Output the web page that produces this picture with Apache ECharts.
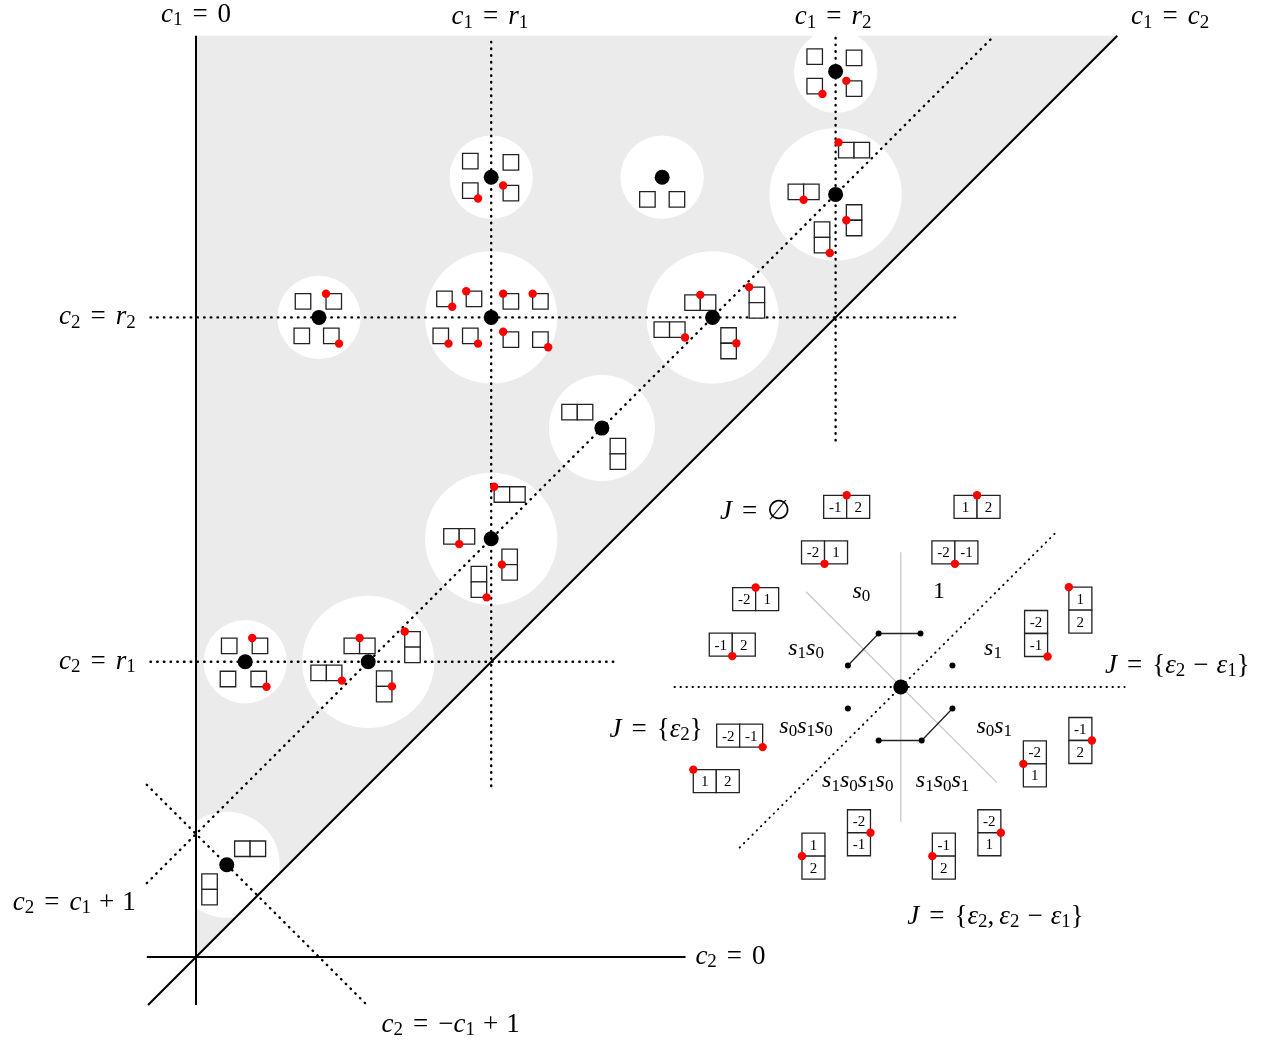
<!DOCTYPE html>
<html>
<head>
<meta charset="utf-8">
<script src="https://cdn.jsdelivr.net/npm/echarts/dist/echarts.min.js"></script>
<style>
html, body { margin: 0; padding: 0; background: #fff; }
#chart-container { width: 1276px; height: 1045px; }
</style>
</head>
<body>
<div id="chart-container"></div>
<script>
var dom = document.getElementById('chart-container');
var myChart = echarts.init(dom, null, { renderer: 'canvas' });

// pixels per unit, and where c1 = c2 = 0 sits on the page
const U = 123;
const ORIGIN = [196, 957];
const SERIF = '"Liberation Serif", "DejaVu Serif", serif';

const R1 = 2.4;
const R2 = 5.2;

// shaded chamber c2 >= c1 >= 0
const chamber = [[0, 0], [0, 7.49], [7.49, 7.49]];

// white discs: c1, c2, radius
const discs = [
    [0.25, 0.75, 0.431], [0.4, R1, 0.339], [1.4, R1, 0.538],
    [1.0, R2, 0.339], [R1, R2, 0.538], [R1, 3.4, 0.538],
    [3.3, 4.3, 0.431], [4.2, R2, 0.538], [R2, 6.2, 0.538],
    [R2, 7.2, 0.339], [R1, 6.34, 0.339], [3.79, 6.34, 0.339]
];

const walls = [
    [[0, -0.39], [0, 7.49]],
    [[-0.4, 0], [3.98, 0]],
    [[-0.39, -0.39], [7.49, 7.49]]
];

const walls_dotted = [
    [[R1, 1.39], [R1, 7.49]],
    [[R2, 4.2], [R2, 7.49]],
    [[-0.37, R2], [6.2, R2]],
    [[-0.37, R1], [3.4, R1]],
    [[-0.4, 0.6], [6.49, 7.49]],
    [[-0.4, 1.4], [1.39, -0.39]]
];

// tableaux next to the points: centre c1, c2, shape (s / h / v), red corner
const boxes = [
    [0.44, 0.88, 'h', ''], [0.11, 0.55, 'v', ''],
    [0.27, 2.53, 's', ''], [0.52, 2.53, 's', 'tl'], [0.26, 2.26, 's', ''], [0.51, 2.26, 's', 'br'],
    [1.33, 2.53, 'h', 't'], [1.06, 2.31, 'h', 'br'], [1.76, 2.52, 'v', 'tl'], [1.53, 2.2, 'v', 'r'],
    [0.87, 5.33, 's', ''], [1.12, 5.33, 's', 'tl'], [0.86, 5.05, 's', ''], [1.1, 5.05, 's', 'br'],
    [2.02, 5.35, 's', 'br'], [2.26, 5.35, 's', 'tl'], [2.56, 5.33, 's', 'tl'], [2.8, 5.33, 's', 'tl'],
    [1.99, 5.05, 's', 'br'], [2.23, 5.05, 's', 'br'], [2.56, 5.02, 's', 'tl'], [2.8, 5.02, 's', 'br'],
    [2.55, 3.76, 'h', 'tl'], [2.14, 3.42, 'h', 'b'], [2.55, 3.19, 'v', 'l'], [2.3, 3.05, 'v', 'br'],
    [3.1, 4.43, 'h', ''], [3.43, 4.09, 'v', ''],
    [4.1, 5.32, 'h', 't'], [3.85, 5.1, 'h', 'br'], [4.56, 5.32, 'v', 'tl'], [4.33, 4.99, 'v', 'r'],
    [5.35, 6.56, 'h', 'tl'], [4.94, 6.22, 'h', 'b'], [5.35, 5.99, 'v', 'l'], [5.09, 5.85, 'v', 'br'],
    [5.03, 7.32, 's', ''], [5.35, 7.31, 's', ''], [5.03, 7.08, 's', 'br'], [5.35, 7.06, 's', 'tl'],
    [2.23, 6.47, 's', ''], [2.56, 6.46, 's', ''], [2.23, 6.23, 's', 'br'], [2.56, 6.21, 's', 'tl'],
    [3.67, 6.16, 's', ''], [3.91, 6.16, 's', '']
];

// filled tableaux of the small picture
const fillings = [
    [5.29, 3.66, 'h', 't', ['-1', '2']],
    [6.35, 3.66, 'h', 't', ['1', '2']],
    [5.11, 3.29, 'h', 'b', ['-2', '1']],
    [6.17, 3.29, 'h', 'b', ['-2', '-1']],
    [4.55, 2.91, 'h', 't', ['-2', '1']],
    [4.36, 2.54, 'h', 'b', ['-1', '2']],
    [4.42, 1.8, 'h', 'br', ['-2', '-1']],
    [4.23, 1.43, 'h', 'tl', ['1', '2']],
    [7.19, 2.82, 'v', 'tl', ['1', '2']],
    [6.83, 2.63, 'v', 'br', ['-2', '-1']],
    [7.19, 1.76, 'v', 'r', ['-1', '2']],
    [6.82, 1.57, 'v', 'l', ['-2', '1']],
    [5.39, 1.01, 'v', 'r', ['-2', '-1']],
    [5.02, 0.82, 'v', 'l', ['1', '2']],
    [6.08, 0.82, 'v', 'l', ['-1', '2']],
    [6.45, 1.01, 'v', 'r', ['-2', '1']]
];

const points = [
    [0.25, 0.75], [0.4, R1], [1.4, R1], [1.0, R2], [R1, R2], [R1, 3.4],
    [3.3, 4.3], [4.2, R2], [R2, 6.2], [R2, 7.2], [R1, 6.34], [3.79, 6.34],
    [5.73, 2.195]
];

const mirrors = [
    [[5.73, 3.29], [5.73, 1.1]],
    [[4.96, 2.97], [6.51, 1.42]]
];
const mirrors_dotted = [
    [[3.89, 2.195], [7.55, 2.195]],
    [[4.42, 0.89], [7.01, 3.47]]
];
const chains = [
    [[5.3, 2.37], [5.55, 2.63], [5.89, 2.63]],
    [[5.55, 1.76], [5.9, 1.76], [6.15, 2.02]]
];
const chainDots = [
    [5.3, 2.37], [5.55, 2.63], [5.89, 2.63], [6.15, 2.37],
    [5.3, 2.02], [5.55, 1.76], [5.9, 1.76], [6.15, 2.02]
];

// big labels: c1, c2, anchor, text
const bigLabels = [
    [0, 7.66, 'center', '{i|c}{s|1}{e|=}{n|0}'],
    [2.39, 7.64, 'center', '{i|c}{s|1}{e|=}{i|r}{s|1}'],
    [5.18, 7.64, 'center', '{i|c}{s|1}{e|=}{i|r}{s|2}'],
    [7.92, 7.64, 'center', '{i|c}{s|1}{e|=}{i|c}{s|2}'],
    [-0.49, 5.2, 'right', '{i|c}{s|2}{e|=}{i|r}{s|2}'],
    [-0.49, 2.4, 'right', '{i|c}{s|2}{e|=}{i|r}{s|1}'],
    [-0.49, 0.44, 'right', '{i|c}{s|2}{e|=}{i|c}{s|1}{o|+}{n|1}'],
    [4.06, 0, 'left', '{i|c}{s|2}{e|=}{n|0}'],
    [2.07, -0.55, 'center', '{i|c}{s|2}{e|=}{n|\u2212}{i|c}{s|1}{o|+}{n|1}'],
    [4.55, 3.62, 'center', '{i|J}{e|=}{n|\u2205}'],
    [7.39, 2.37, 'left', '{i|J}{e|=}{n|{}{i|\u03b5}{s|2}{o|\u2212}{i|\u03b5}{s|1}}'],
    [4.12, 1.85, 'right', '{i|J}{e|=}{n|{}{i|\u03b5}{s|2}}'],
    [6.5, 0.33, 'center', '{i|J}{e|=}{n|{}{i|\u03b5}{s|2}{c|,}{i|\u03b5}{s|2}{o|\u2212}{i|\u03b5}{s|1}}']
];

// chamber names in the small picture
const words = [
    [5.41, 2.97, '{i|s}{s|0}'],
    [6.04, 2.97, '{n|1}'],
    [4.96, 2.51, '{i|s}{s|1}{i|s}{s|0}'],
    [6.48, 2.51, '{i|s}{s|1}'],
    [4.96, 1.87, '{i|s}{s|0}{i|s}{s|1}{i|s}{s|0}'],
    [6.49, 1.87, '{i|s}{s|0}{i|s}{s|1}'],
    [5.38, 1.43, '{i|s}{s|1}{i|s}{s|0}{i|s}{s|1}{i|s}{s|0}'],
    [6.07, 1.43, '{i|s}{s|1}{i|s}{s|0}{i|s}{s|1}']
];

const ANCHORS = {
    tl: [-1, -1], tr: [1, -1], bl: [-1, 1], br: [1, 1],
    t: [0, -1], b: [0, 1], l: [-1, 0], r: [1, 0]
};

function makeRich(big, sub) {
    return {
        i: { fontFamily: SERIF, fontStyle: 'italic', fontSize: big, lineHeight: big + 3 },
        n: { fontFamily: SERIF, fontSize: big, lineHeight: big + 3 },
        s: { fontFamily: SERIF, fontSize: sub, lineHeight: sub, verticalAlign: 'bottom' },
        e: { fontFamily: SERIF, fontSize: big, lineHeight: big + 3, padding: [0, 10, 0, 10] },
        o: { fontFamily: SERIF, fontSize: big, lineHeight: big + 3, padding: [0, 8, 0, 8] },
        c: { fontFamily: SERIF, fontSize: big, lineHeight: big + 3, padding: [0, 5, 0, 0] }
    };
}

function tableauRender(list, cell, fontSize) {
    return function (params, api) {
        const t = list[params.dataIndex];
        const c = api.coord([t[0], t[1]]);
        const s = api.size([cell, cell])[0];
        const cols = t[2] === 'h' ? 2 : 1;
        const rows = t[2] === 'v' ? 2 : 1;
        const x0 = c[0] - cols * s / 2;
        const y0 = c[1] - rows * s / 2;
        const children = [];
        for (let k = 0; k < cols * rows; k++) {
            const i = t[2] === 'h' ? k : 0;
            const j = t[2] === 'v' ? k : 0;
            children.push({
                type: 'rect',
                shape: { x: x0 + i * s, y: y0 + j * s, width: s, height: s },
                style: { fill: '#fff', stroke: '#222', lineWidth: 1.3 }
            });
            if (t[4]) {
                children.push({
                    type: 'text',
                    style: {
                        text: t[4][k], x: x0 + (i + 0.5) * s, y: y0 + (j + 0.5) * s + 1,
                        align: 'center', verticalAlign: 'middle',
                        fontFamily: SERIF, fontSize: fontSize, fill: '#000'
                    }
                });
            }
        }
        const a = ANCHORS[t[3]];
        if (a) {
            children.push({
                type: 'circle',
                shape: { cx: c[0] + a[0] * cols * s / 2, cy: c[1] + a[1] * rows * s / 2, r: 4.2 },
                style: { fill: '#ff0000' }
            });
        }
        return { type: 'group', children: children };
    };
}

function labelRender(list, rich, big) {
    return function (params, api) {
        const t = list[params.dataIndex];
        const c = api.coord([t[0], t[1]]);
        return {
            type: 'text', x: c[0], y: c[1],
            style: {
                text: t[t.length - 1], rich: rich,
                align: t.length > 3 ? t[2] : 'center', verticalAlign: 'middle',
                fontFamily: SERIF, fontSize: big, fill: '#000'
            }
        };
    };
}

function lineSeries(seg, style, z) {
    return {
        type: 'line', data: seg, symbol: 'none', silent: true, z: z,
        lineStyle: style
    };
}

const solid = { color: '#000', width: 2 };
const dotted = { color: '#000', width: 2.4, type: [0.5, 6.2], cap: 'round' };
const dottedSmall = { color: '#000', width: 1.9, type: [0.5, 5.5], cap: 'round' };
const grayLine = { color: '#c8c8c8', width: 1.3 };
const chainLine = { color: '#222', width: 1.3 };

var series = [
    {
        type: 'custom', z: 1, silent: true, data: [[0, 0]],
        renderItem: function (params, api) {
            return {
                type: 'polygon',
                shape: { points: chamber.map(function (p) { return api.coord(p); }) },
                style: { fill: '#ebebeb' }
            };
        }
    },
    {
        type: 'custom', z: 2, silent: true,
        data: discs,
        renderItem: function (params, api) {
            const c = api.coord([api.value(0), api.value(1)]);
            const r = api.size([api.value(2), 0])[0];
            return { type: 'circle', shape: { cx: c[0], cy: c[1], r: r }, style: { fill: '#fff' } };
        }
    }
];

walls.forEach(function (seg) { series.push(lineSeries(seg, solid, 3)); });
walls_dotted.forEach(function (seg) { series.push(lineSeries(seg, dotted, 3)); });
mirrors.forEach(function (seg) { series.push(lineSeries(seg, grayLine, 3)); });
mirrors_dotted.forEach(function (seg) { series.push(lineSeries(seg, dottedSmall, 3)); });
chains.forEach(function (seg) { series.push(lineSeries(seg, chainLine, 3)); });

series.push(
    {
        type: 'custom', z: 4, silent: true,
        data: boxes.map(function (t) { return [t[0], t[1]]; }),
        renderItem: tableauRender(boxes, 0.126, 15)
    },
    {
        type: 'custom', z: 4, silent: true,
        data: fillings.map(function (t) { return [t[0], t[1]]; }),
        renderItem: tableauRender(fillings, 0.187, 15)
    },
    {
        type: 'scatter', z: 5, silent: true, symbolSize: 15,
        itemStyle: { color: '#000', opacity: 1 }, data: points
    },
    {
        type: 'scatter', z: 5, silent: true, symbolSize: 6,
        itemStyle: { color: '#000', opacity: 1 }, data: chainDots
    },
    {
        type: 'custom', z: 6, silent: true,
        data: bigLabels.map(function (t) { return [t[0], t[1]]; }),
        renderItem: labelRender(bigLabels, makeRich(27, 19), 27)
    },
    {
        type: 'custom', z: 6, silent: true,
        data: words.map(function (t) { return [t[0], t[1]]; }),
        renderItem: labelRender(words, makeRich(24, 17), 24)
    }
);

var option = {
    animation: false,
    backgroundColor: '#fff',
    grid: { left: 0, top: 0, width: 1276, height: 1045 },
    xAxis: {
        type: 'value', show: false,
        min: -ORIGIN[0] / U, max: (1276 - ORIGIN[0]) / U
    },
    yAxis: {
        type: 'value', show: false,
        min: -(1045 - ORIGIN[1]) / U, max: ORIGIN[1] / U
    },
    series: series
};

if (option && typeof option === 'object') {
    myChart.setOption(option);
}

window.addEventListener('resize', myChart.resize);
</script>
</body>
</html>
